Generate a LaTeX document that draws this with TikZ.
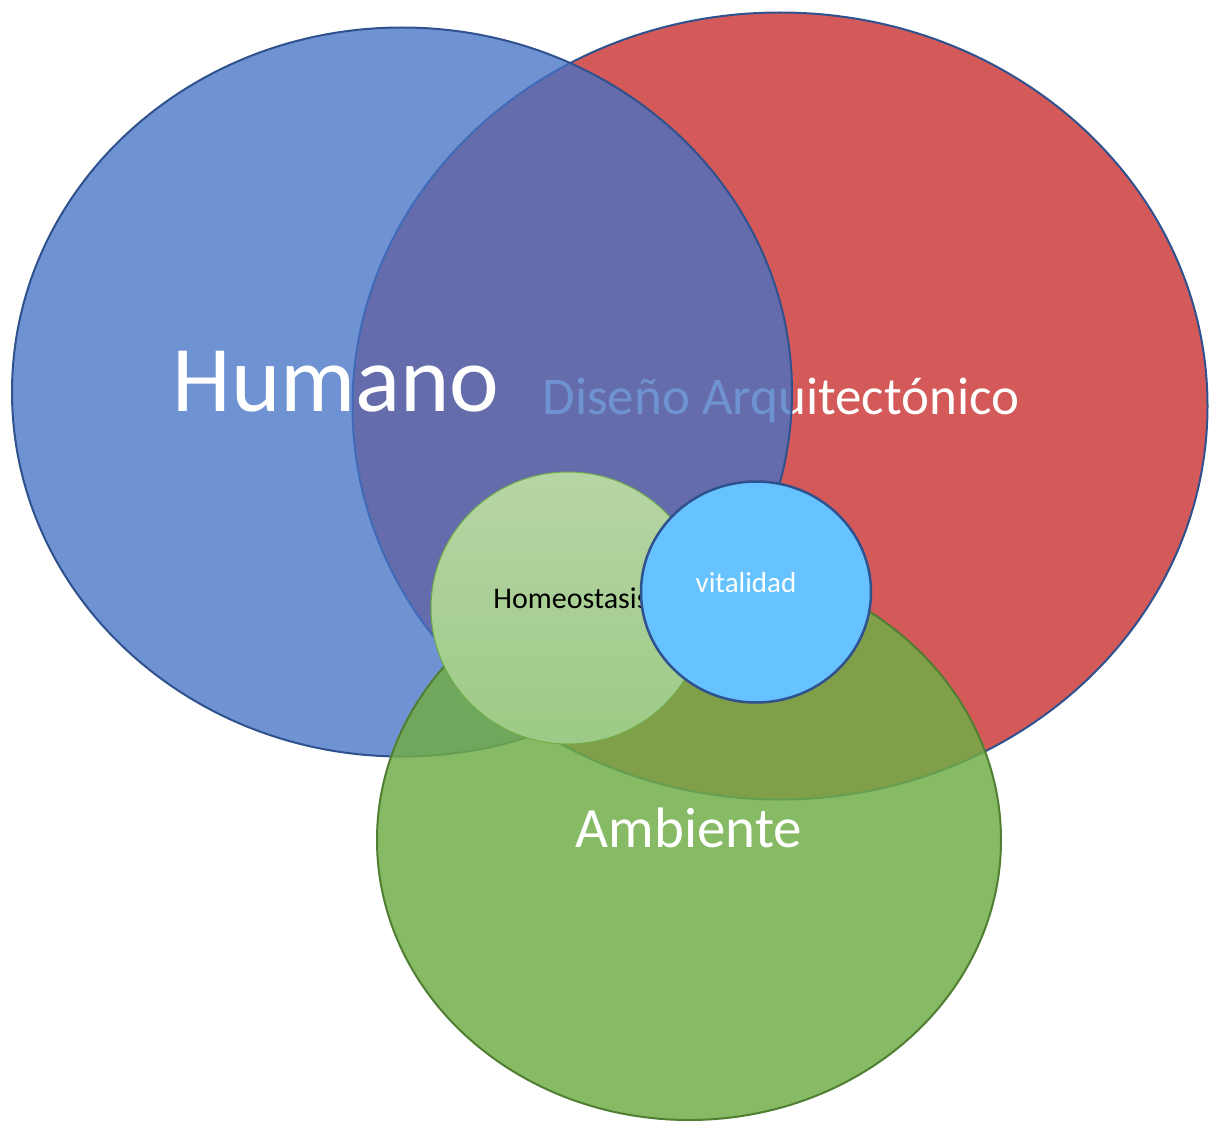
\documentclass[tikz,border=0pt]{standalone}
\usepackage{fontspec}
\setmainfont{Carlito}
\usetikzlibrary{shapes.geometric}

\definecolor{humanoblue}{RGB}{68,114,196}
\definecolor{disenored}{RGB}{212,89,89}
\definecolor{edgeblue}{RGB}{47,82,143}
\definecolor{ambientegreen}{RGB}{112,173,71}
\definecolor{edgegreen}{RGB}{80,126,50}
\definecolor{homeotop}{RGB}{182,213,164}
\definecolor{homeobottom}{RGB}{157,202,134}
\definecolor{vitalblue}{RGB}{102,195,255}

\tikzset{
  blob/.style={ellipse, inner sep=0pt, outer sep=0pt, line width=2pt},
  bigtext/.style={anchor=base, inner sep=0pt, text=white}
}

\begin{document}
\begin{tikzpicture}[x=1pt, y=-1pt]
        \useasboundingbox (0,0) rectangle (1218,1121);

        % the three big sets
        \node[blob, fill=disenored, draw=edgeblue, minimum width=855pt, minimum height=787pt] (diseno) at (780,406) {};
        \node[bigtext, font=\fontsize{53}{64}\selectfont] (disenotext) at (781,414) {Diseño Arquitectónico};
        \node[blob, fill=humanoblue, fill opacity=0.77, draw=edgeblue, minimum width=780pt, minimum height=729pt] (humano) at (402,392) {};
        \node[blob, fill=ambientegreen, fill opacity=0.84, draw=edgegreen, minimum width=624pt, minimum height=560pt] (ambiente) at (689,840) {};
        \node[bigtext, font=\fontsize{57}{68}\selectfont] (ambientetext) at (689,847) {Ambiente};

        % small circles
        \node[blob, line width=1pt, draw=ambientegreen, top color=homeotop, bottom color=homeobottom, minimum width=274pt, minimum height=272pt] (homeo) at (568,608) {};
        \node[anchor=base, inner sep=0pt, font=\fontsize{30}{36}\selectfont] (homeotext) at (571,608) {Homeostasis};
        \node[blob, line width=2.5pt, fill=vitalblue, draw=edgeblue, minimum width=230pt, minimum height=221pt] (vital) at (756,592) {};
        \node[bigtext, font=\fontsize{29}{35}\selectfont] (vitaltext) at (746,592) {vitalidad};

        \node[bigtext, font=\fontsize{94}{112}\selectfont] (humanotext) at (336,411) {Humano};
      \end{tikzpicture}
\end{document}
